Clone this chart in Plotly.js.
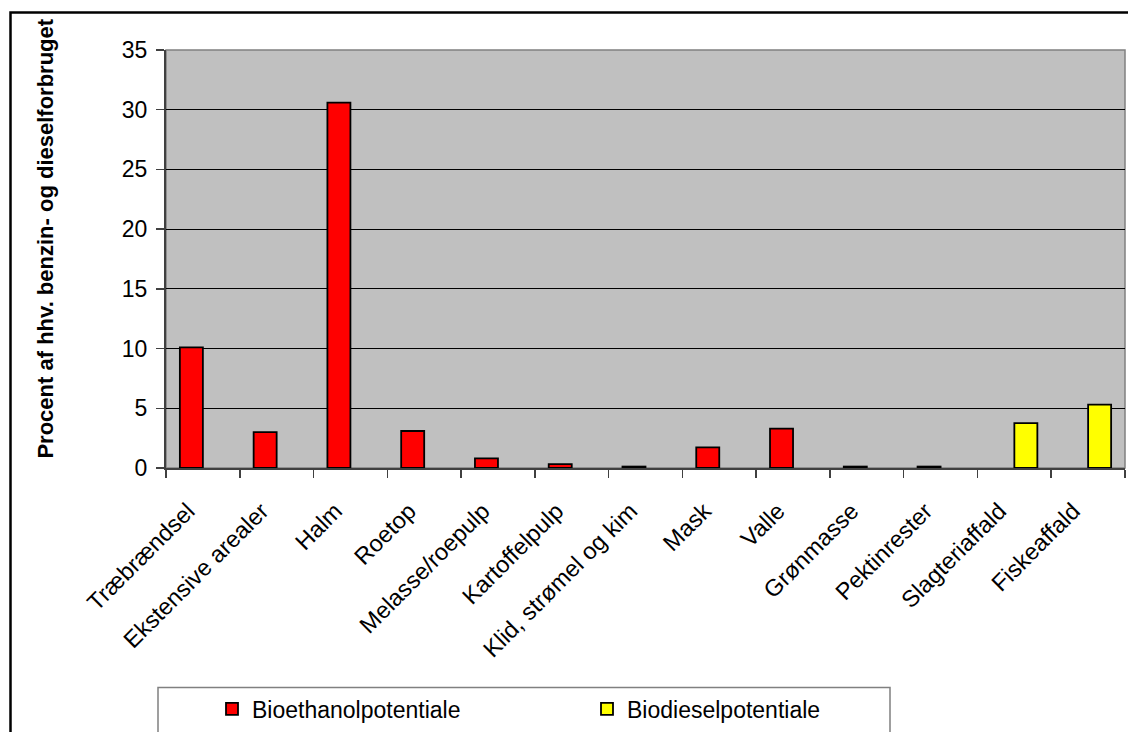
<!DOCTYPE html>
<html>
<head>
<meta charset="utf-8">
<script src="https://cdn.plot.ly/plotly-3.0.1.min.js"></script>
<style>
html,body{margin:0;padding:0;background:#fff;overflow:hidden;}
#chart{width:1128px;height:732px;}
</style>
</head>
<body>
<div id="chart"></div>
<script>
const categories = ["Træbrændsel","Ekstensive arealer","Halm","Roetop","Melasse/roepulp","Kartoffelpulp","Klid, strømel og kim","Mask","Valle","Grønmasse","Pektinrester","Slagteriaffald","Fiskeaffald"];
const bioethanol = [10.1, 3.0, 30.6, 3.1, 0.8, 0.33, 0.12, 1.72, 3.3, 0.12, 0.12, null, null];
const biodiesel = [null, null, null, null, null, null, null, null, null, null, null, 3.76, 5.3];
const yTicks = [0, 5, 10, 15, 20, 25, 30, 35];
const seriesNames = ["Bioethanolpotentiale", "Biodieselpotentiale"];
const yTitle = "Procent af hhv. benzin- og dieselforbruget";

const FONT = "Liberation Sans, Arial, sans-serif";
const L = 166, R = 1125, T = 50, B = 469;
const W = R - L, H = B - T;
const px = v => (v - L) / W;
const py = v => (B - v) / H;

const traces = [
  {type: "bar", name: seriesNames[0], x: categories, y: bioethanol,
   marker: {color: "#FF0000", line: {color: "#000000", width: 1.8}}},
  {type: "bar", name: seriesNames[1], x: categories, y: biodiesel,
   marker: {color: "#FFFF00", line: {color: "#000000", width: 1.8}}}
];

const layout = {
  width: 1128, height: 732,
  margin: {l: L, r: 1128 - R, t: T, b: 732 - B, pad: 0},
  paper_bgcolor: "#FFFFFF",
  plot_bgcolor: "#C0C0C0",
  barmode: "group",
  bargap: 0.376,
  bargroupgap: 0,
  font: {family: FONT, size: 23, color: "#000000"},
  xaxis: {
    type: "category",
    tickangle: -45,
    tickson: "boundaries",
    ticks: "outside", ticklen: 8, tickwidth: 1.5, tickcolor: "#404040",
    showline: true, linecolor: "#404040", linewidth: 2,
    showgrid: false, zeroline: false,
    ticklabelshift: -15,
    ticklabelstandoff: 18,
    tickfont: {family: FONT, size: 23.5, color: "#000000"},
    fixedrange: true
  },
  yaxis: {
    range: [0, 35],
    tickvals: yTicks,
    ticktext: yTicks.map(String),
    ticks: "outside", ticklen: 8, tickwidth: 1.5, tickcolor: "#404040",
    showline: true, linecolor: "#404040", linewidth: 2,
    showgrid: true, gridcolor: "#000000", gridwidth: 1,
    zeroline: false,
    ticklabelstandoff: 4,
    tickfont: {family: FONT, size: 23, color: "#000000"},
    fixedrange: true
  },
  showlegend: true,
  legend: {
    orientation: "h",
    x: px(212), xanchor: "left",
    y: py(709), yanchor: "middle",
    bgcolor: "rgba(0,0,0,0)",
    borderwidth: 0,
    entrywidth: 330, entrywidthmode: "pixels",
    itemwidth: 30,
    font: {family: FONT, size: 23, color: "#000000"},
    traceorder: "normal"
  },
  annotations: [{
    xref: "paper", yref: "paper",
    x: px(46), y: py(239),
    text: "<b>" + yTitle + "</b>",
    textangle: -90, showarrow: false,
    xanchor: "center", yanchor: "middle",
    font: {family: FONT, size: 22, color: "#000000"}
  }],
  shapes: [
    {type: "rect", xref: "paper", yref: "paper", x0: 0, x1: 1, y0: 0, y1: 1,
     line: {color: "#808080", width: 1.5}, fillcolor: "rgba(0,0,0,0)", layer: "below"},
    {type: "rect", xref: "paper", yref: "paper", x0: px(10.5), x1: px(1140), y0: py(12.5), y1: py(760),
     line: {color: "#000000", width: 2.5}, fillcolor: "rgba(0,0,0,0)", layer: "above"},
    {type: "rect", xref: "paper", yref: "paper", x0: px(158), x1: px(890), y0: py(689), y1: py(760),
     line: {color: "#808080", width: 1.5}, fillcolor: "rgba(0,0,0,0)", layer: "above"}
  ]
};

Plotly.newPlot("chart", traces, layout, {displayModeBar: false, staticPlot: true});
</script>
</body>
</html>
